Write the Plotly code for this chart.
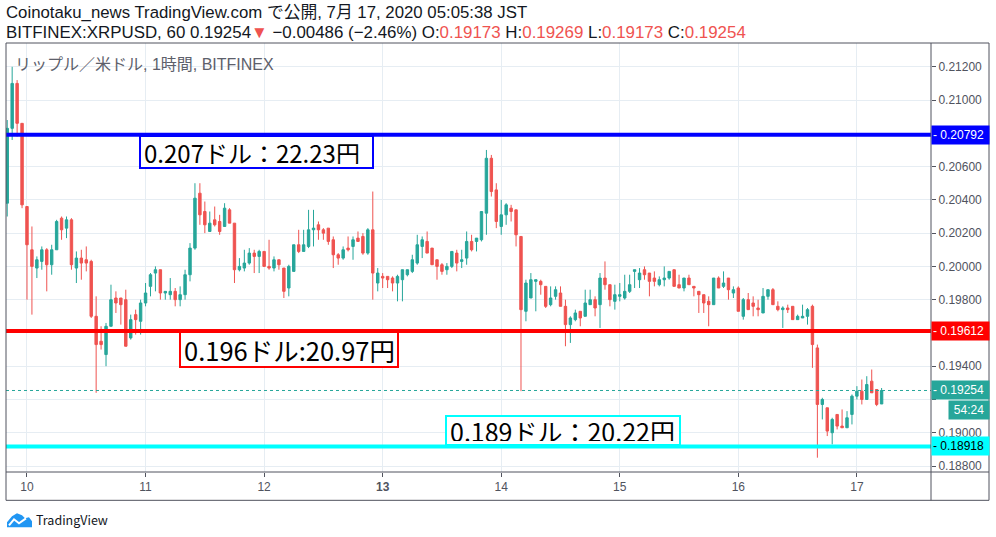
import pandas as pd
import plotly.graph_objects as go

# XRP/USD 1時間足 (BITFINEX)  7/9 20:00 〜 7/17 05:00 JST
open_ = [
    0.2038, 0.2083, 0.2110, 0.2086,
    # 7/10
    0.2036, 0.2010, 0.1999, 0.2003, 0.2010, 0.2001, 0.2010, 0.2029, 0.2023, 0.2028, 0.1999, 0.2005,
    0.2004, 0.2003, 0.1970, 0.1955, 0.1947, 0.1964, 0.1981, 0.1981, 0.1980, 0.1957, 0.1971, 0.1967,
    # 7/11
    0.1978, 0.1988, 0.1996, 0.1998, 0.1984, 0.1983, 0.1985, 0.1980, 0.1983, 0.1995, 0.2011, 0.2044,
    0.2033, 0.2021, 0.2028, 0.2027, 0.2024, 0.2034, 0.2026, 0.1998, 0.1999, 0.2002, 0.2008, 0.2006,
    # 7/12
    0.2009, 0.2000, 0.1999, 0.2004, 0.1999, 0.1987, 0.1997, 0.2013, 0.2009, 0.2012, 0.2022, 0.2025,
    0.2022, 0.2023, 0.2016, 0.2007, 0.2005, 0.2011, 0.2012, 0.2017, 0.2018, 0.2008, 0.2022, 0.1990,
    # 7/13
    0.1994, 0.1994, 0.1993, 0.1990, 0.1992, 0.1995, 0.1997, 0.2002, 0.2012, 0.2015, 0.2011, 0.2004,
    0.2001, 0.1998, 0.2000, 0.2008, 0.2003, 0.2005, 0.2015, 0.2015, 0.2016, 0.2032, 0.2065, 0.2046,
    # 7/14
    0.2024, 0.2031, 0.2035, 0.2034, 0.2018, 0.1973, 0.1981, 0.1991, 0.1991, 0.1988, 0.1977, 0.1982,
    0.1984, 0.1976, 0.1965, 0.1968, 0.1973, 0.1970, 0.1977, 0.1980, 0.1977, 0.1993, 0.1989, 0.1979,
    # 7/15
    0.1982, 0.1981, 0.1985, 0.1997, 0.1992, 0.1998, 0.1996, 0.1993, 0.1989, 0.1992, 0.1993, 0.1998,
    0.1989, 0.1987, 0.1993, 0.1988, 0.1985, 0.1983, 0.1979, 0.1977, 0.1993, 0.1988, 0.1993, 0.1984,
    # 7/16
    0.1987, 0.1970, 0.1980, 0.1978, 0.1975, 0.1972, 0.1982, 0.1986, 0.1976, 0.1974, 0.1975, 0.1976,
    0.1968, 0.1969, 0.1970, 0.1976, 0.1951, 0.1917, 0.1915, 0.1900, 0.1911, 0.1904, 0.1903, 0.1911,
    # 7/17
    0.1922, 0.1925, 0.1920, 0.1931, 0.1926, 0.19173,
]
high = [
    0.2088, 0.2120, 0.2112, 0.2086,
    0.2036, 0.2024, 0.2006, 0.2012, 0.2011, 0.2013, 0.2028, 0.2030, 0.2030, 0.2029, 0.2009, 0.2010,
    0.2012, 0.2004, 0.1982, 0.1964, 0.1966, 0.1989, 0.1985, 0.1981, 0.1986, 0.1971, 0.1974, 0.1980,
    0.1990, 0.1996, 0.2000, 0.1998, 0.1985, 0.1993, 0.1987, 0.1988, 0.1998, 0.2014, 0.2050, 0.2050,
    0.2039, 0.2033, 0.2036, 0.2031, 0.2038, 0.2035, 0.2026, 0.2005, 0.2010, 0.2011, 0.2010, 0.2010,
    0.2009, 0.2016, 0.2006, 0.2004, 0.1999, 0.2001, 0.2013, 0.2022, 0.2022, 0.2034, 0.2034, 0.2027,
    0.2023, 0.2023, 0.2018, 0.2008, 0.2012, 0.2018, 0.2018, 0.2021, 0.2020, 0.2023, 0.2045, 0.1999,
    0.1996, 0.1994, 0.1994, 0.1995, 0.1998, 0.1998, 0.2007, 0.2019, 0.2018, 0.2021, 0.2011, 0.2004,
    0.2002, 0.2002, 0.2009, 0.2010, 0.2010, 0.2021, 0.2019, 0.2017, 0.2033, 0.2070, 0.2067, 0.2050,
    0.2040, 0.2038, 0.2037, 0.2034, 0.2018, 0.1992, 0.1996, 0.1992, 0.1992, 0.1988, 0.1988, 0.1988,
    0.1988, 0.1980, 0.1970, 0.1974, 0.1973, 0.1986, 0.1986, 0.1982, 0.1996, 0.2003, 0.1989, 0.1989,
    0.1990, 0.1995, 0.1995, 0.1998, 0.1999, 0.2000, 0.1996, 0.1997, 0.1994, 0.2000, 0.1997, 0.1998,
    0.1995, 0.1993, 0.1995, 0.1988, 0.1985, 0.1983, 0.1982, 0.1993, 0.1994, 0.1997, 0.1993, 0.1988,
    0.1988, 0.1981, 0.1984, 0.1982, 0.1980, 0.1987, 0.1986, 0.1987, 0.1979, 0.1976, 0.1977, 0.1976,
    0.1971, 0.1977, 0.1975, 0.1977, 0.1953, 0.1921, 0.1915, 0.1909, 0.1911, 0.1914, 0.1913, 0.1923,
    0.1928, 0.1932, 0.1934, 0.1938, 0.1926, 0.19269,
]
low = [
    0.2030, 0.2076, 0.2078, 0.2035,
    0.1980, 0.1971, 0.1993, 0.1998, 0.1985, 0.1995, 0.2010, 0.2016, 0.2017, 0.1998, 0.1990, 0.1992,
    0.1997, 0.1969, 0.1924, 0.1950, 0.1940, 0.1964, 0.1972, 0.1965, 0.1952, 0.1956, 0.1959, 0.1959,
    0.1976, 0.1982, 0.1985, 0.1980, 0.1980, 0.1980, 0.1976, 0.1976, 0.1980, 0.1991, 0.2010, 0.2025,
    0.2020, 0.2021, 0.2024, 0.2019, 0.2024, 0.2026, 0.1990, 0.1997, 0.1997, 0.2001, 0.1996, 0.1996,
    0.2000, 0.1998, 0.1997, 0.1998, 0.1981, 0.1982, 0.1997, 0.2008, 0.2009, 0.2011, 0.2012, 0.2016,
    0.2016, 0.2013, 0.1999, 0.2001, 0.2004, 0.2009, 0.2004, 0.2015, 0.2007, 0.2007, 0.1980, 0.1985,
    0.1987, 0.1987, 0.1985, 0.1979, 0.1979, 0.1994, 0.1996, 0.2001, 0.2005, 0.2008, 0.2001, 0.1992,
    0.1995, 0.1995, 0.1999, 0.1997, 0.1999, 0.2001, 0.2009, 0.2009, 0.2015, 0.2019, 0.2042, 0.2023,
    0.2019, 0.2025, 0.2027, 0.2012, 0.1925, 0.1967, 0.1981, 0.1973, 0.1983, 0.1975, 0.1976, 0.1980,
    0.1976, 0.1952, 0.1954, 0.1967, 0.1964, 0.1970, 0.1977, 0.1970, 0.1963, 0.1986, 0.1976, 0.1974,
    0.1979, 0.1980, 0.1984, 0.1987, 0.1987, 0.1992, 0.1982, 0.1988, 0.1988, 0.1988, 0.1992, 0.1988,
    0.1987, 0.1985, 0.1989, 0.1982, 0.1972, 0.1972, 0.1964, 0.1977, 0.1987, 0.1987, 0.1980, 0.1981,
    0.1973, 0.1968, 0.1974, 0.1970, 0.1970, 0.1972, 0.1980, 0.1977, 0.1973, 0.1963, 0.1972, 0.1968,
    0.1968, 0.1969, 0.1965, 0.1939, 0.1885, 0.1908, 0.1898, 0.1893, 0.1902, 0.1903, 0.1903, 0.1905,
    0.1920, 0.1917, 0.1920, 0.1924, 0.1916, 0.19173,
]
close = [
    0.2083, 0.2110, 0.2086, 0.2037,
    0.2013, 0.2000, 0.2004, 0.2010, 0.2001, 0.2010, 0.2027, 0.2022, 0.2028, 0.2001, 0.2005, 0.2002,
    0.2002, 0.1970, 0.1953, 0.1953, 0.1964, 0.1980, 0.1978, 0.1977, 0.1952, 0.1968, 0.1968, 0.1978,
    0.1984, 0.1995, 0.1998, 0.1984, 0.1985, 0.1985, 0.1980, 0.1983, 0.1995, 0.2011, 0.2041, 0.2031,
    0.2025, 0.2026, 0.2025, 0.2021, 0.2035, 0.2026, 0.1998, 0.2000, 0.2002, 0.2008, 0.2006, 0.2009,
    0.2000, 0.1999, 0.2004, 0.2001, 0.1985, 0.2000, 0.2013, 0.2009, 0.2013, 0.2022, 0.2023, 0.2022,
    0.2020, 0.2015, 0.2007, 0.2005, 0.2010, 0.2010, 0.2016, 0.2015, 0.2008, 0.2022, 0.1996, 0.1996,
    0.1993, 0.1992, 0.1990, 0.1994, 0.1998, 0.1998, 0.2004, 0.2013, 0.2016, 0.2008, 0.2001, 0.2000,
    0.1997, 0.2000, 0.2009, 0.2002, 0.2004, 0.2015, 0.2010, 0.2017, 0.2033, 0.2065, 0.2045, 0.2027,
    0.2031, 0.2037, 0.2033, 0.2019, 0.1974, 0.1990, 0.1992, 0.1992, 0.1989, 0.1976, 0.1981, 0.1986,
    0.1976, 0.1965, 0.1969, 0.1972, 0.1969, 0.1978, 0.1980, 0.1975, 0.1993, 0.1989, 0.1980, 0.1983,
    0.1983, 0.1985, 0.1989, 0.1998, 0.1996, 0.1995, 0.1991, 0.1991, 0.1992, 0.1993, 0.1997, 0.1988,
    0.1987, 0.1993, 0.1989, 0.1987, 0.1983, 0.1978, 0.1977, 0.1993, 0.1987, 0.1990, 0.1986, 0.1986,
    0.1973, 0.1980, 0.1974, 0.1976, 0.1974, 0.1982, 0.1986, 0.1977, 0.1974, 0.1975, 0.1974, 0.1968,
    0.1970, 0.1970, 0.1974, 0.1953, 0.1917, 0.1920, 0.1901, 0.1908, 0.1904, 0.1903, 0.1909, 0.1922,
    0.1925, 0.1920, 0.1929, 0.1924, 0.1917, 0.19254,
]

start_time = '2020-07-09 20:00'
day_ticks = ['2020-07-10', '2020-07-11', '2020-07-12', '2020-07-13',
             '2020-07-14', '2020-07-15', '2020-07-16', '2020-07-17']
day_labels = ['10', '11', '12', '<b>13</b>', '14', '15', '16', '17']
price_ticks = [0.188, 0.190, 0.192, 0.194, 0.196, 0.198, 0.200,
               0.202, 0.204, 0.206, 0.208, 0.210, 0.212]
# 右側の価格タグに隠れる目盛りは文字なし
price_labels = ['0.18800', '0.19000', '', '0.19400', '', '0.19800', '0.20000',
                '0.20200', '0.20400', '0.20600', '', '0.21000', '0.21200']

# 水平線（価格・色・メモ）
level_prices = [0.20792, 0.19612, 0.18918]
level_colors = ['#0000ff', '#ff0000', '#00ffff']
level_notes = ['0.207ドル：22.23円', '0.196ドル:20.97円', '0.189ドル：20.22円']
last_price = 0.19254

UP = '#26a69a'
DOWN = '#ef5350'
AXIS = '#50535e'
GRID = '#e6edf3'
FONT = 'Liberation Sans, Noto Sans CJK JP, sans-serif'
JP = 'Noto Sans CJK JP, sans-serif'
NUM = 'Liberation Sans, Arial, sans-serif'

times = pd.date_range(start_time, periods=len(close), freq='h')

W, H = 996, 537
PL, PR, PT, PB = 6, 931, 43, 471.7


def px(x):
    return (x - PL) / (PR - PL)


def py(y):
    return (PB - y) / (PB - PT)


fig = go.Figure()
fig.add_trace(go.Candlestick(
    x=times, open=open_, high=high, low=low, close=close,
    increasing=dict(line=dict(color=UP, width=1), fillcolor=UP),
    decreasing=dict(line=dict(color=DOWN, width=1), fillcolor=DOWN),
    whiskerwidth=0, hoverinfo='skip', showlegend=False,
))

shapes = []
# 現在値の点線
shapes.append(dict(type='line', xref='paper', x0=0, x1=1, yref='y',
                   y0=last_price, y1=last_price,
                   line=dict(color=UP, width=1, dash='dot')))
# 水平線
for p, c in zip(level_prices, level_colors):
    shapes.append(dict(type='line', xref='paper', x0=0, x1=1, yref='y',
                       y0=p, y1=p, line=dict(color=c, width=4)))
# 枠線
frame = [
    (px(PL), py(PT), px(989), py(PT)),
    (px(PL), py(PT), px(PL), py(500)),
    (px(989), py(PT), px(989), py(500)),
    (px(PL), py(500), px(989), py(500)),
    (px(PR), py(PT), px(PR), py(500)),
    (px(PL), py(PB), px(989), py(PB)),
]
for x0, y0, x1, y1 in frame:
    shapes.append(dict(type='line', xref='paper', yref='paper', x0=x0, y0=y0,
                       x1=x1, y1=y1, line=dict(color=AXIS, width=1)))

# TradingView ロゴ
cloud = [(7, 527), (7, 522), (12, 516), (17, 513), (22, 515), (25, 518),
         (29, 517), (32, 521), (32, 527)]
path = 'M ' + ' L '.join(f'{px(a):.5f},{py(b):.5f}' for a, b in cloud) + ' Z'
shapes.append(dict(type='path', xref='paper', yref='paper', path=path,
                   fillcolor='#2196f3', line=dict(width=0)))
zig = [(9, 525), (14, 519), (19, 523), (26, 518)]
path2 = 'M ' + ' L '.join(f'{px(a):.5f},{py(b):.5f}' for a, b in zig)
shapes.append(dict(type='path', xref='paper', yref='paper', path=path2,
                   line=dict(color='white', width=2)))

ann = []
ann.append(dict(xref='paper', yref='paper', x=px(4), y=py(13), xanchor='left',
                yanchor='middle', showarrow=False,
                text='Coinotaku_news TradingView.com で公開, 7月 17, 2020 05:05:38 JST',
                font=dict(family=FONT, size=16.8, color='#131722')))
red = lambda s: f"<span style='color:{DOWN}'>{s}</span>"
ann.append(dict(xref='paper', yref='paper', x=px(4), y=py(33), xanchor='left',
                yanchor='middle', showarrow=False,
                text=(f"BITFINEX:XRPUSD, 60 0.19254{red('▼')} −0.00486 (−2.46%) "
                      f"O:{red('0.19173')} H:{red('0.19269')} L:{red('0.19173')} C:{red('0.19254')}"),
                font=dict(family=FONT, size=16.9, color='#131722')))
ann.append(dict(xref='paper', yref='paper', x=px(13), y=py(64), xanchor='left',
                yanchor='middle', showarrow=False,
                text='リップル／米ドル, 1時間, BITFINEX',
                font=dict(family=FONT, size=16, color='#5d606b')))
ann.append(dict(xref='paper', yref='paper', x=px(34), y=py(519), xanchor='left',
                yanchor='middle', showarrow=False, text='TradingView',
                font=dict(family=JP, size=12.5, color='#131722')))

# メモの枠 (左端, 縦位置, 幅, 高さ, 文字サイズ)
note_pos = [(139, 'top', 225, 24, 24), (179, 'top', 210, 27, 25.5),
            (445, 'bottom', 226, 21, 25)]
for p, c, t, (xl, va, w, h, fs) in zip(level_prices, level_colors, level_notes, note_pos):
    ann.append(dict(xref='paper', yref='y', x=px(xl), y=p, xanchor='left',
                    yanchor=va, showarrow=False, text=t, align='left',
                    width=w, height=h, borderpad=3, bordercolor=c, borderwidth=2,
                    bgcolor='white', font=dict(family=JP, size=fs, color='black')))

# 右軸の価格ラベル
tag_colors = level_colors + [UP]
tag_prices = level_prices + [last_price]
tag_font = ['white', 'white', 'black', 'white']
for p, c, fc in zip(tag_prices, tag_colors, tag_font):
    ann.append(dict(xref='paper', yref='y', x=1, y=p, xanchor='left',
                    yanchor='middle', showarrow=False, text=f'- {p:.5f}',
                    width=55, height=16, borderpad=1, bgcolor=c, align='left',
                    font=dict(family=NUM, size=12, color=fc)))
ann.append(dict(xref='paper', yref='paper', x=px(948), y=py(410), xanchor='left',
                yanchor='middle', showarrow=False, text='54:24',
                width=38, height=16, borderpad=1, bgcolor=UP,
                font=dict(family=NUM, size=12, color='white')))

fig.update_layout(
    width=W, height=H,
    margin=dict(l=PL, r=W - PR, t=PT, b=H - PB),
    paper_bgcolor='white', plot_bgcolor='white',
    shapes=shapes, annotations=ann,
    xaxis=dict(
        type='date', rangeslider=dict(visible=False),
        range=['2020-07-09 19:45', '2020-07-17 15:00'],
        tickvals=day_ticks, ticktext=day_labels,
        showgrid=True, gridcolor=GRID, gridwidth=1,
        ticks='outside', ticklen=4, tickcolor=AXIS,
        showline=False, zeroline=False,
        tickfont=dict(family=NUM, size=12, color=AXIS),
    ),
    yaxis=dict(
        side='right', range=[0.18764, 0.21343],
        tickvals=price_ticks, ticktext=price_labels,
        showgrid=True, gridcolor=GRID, gridwidth=1,
        ticks='outside', ticklen=4, tickcolor=AXIS,
        showline=False, zeroline=False,
        tickfont=dict(family=NUM, size=12, color=AXIS),
    ),
    hovermode=False,
)

# ページ余白を消して 996x537 にぴったり合わせる
fig.write_html('out.html', config={'displayModeBar': False},
               post_script="document.body.style.margin='0';")
